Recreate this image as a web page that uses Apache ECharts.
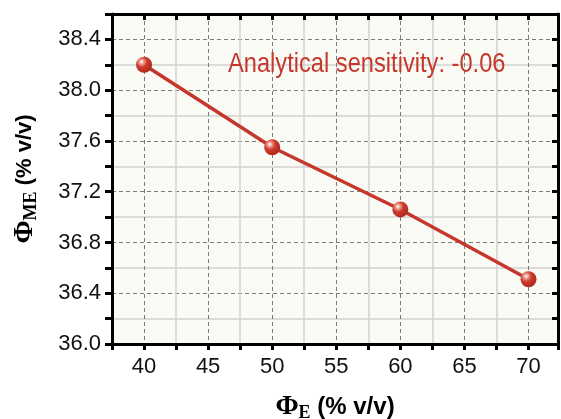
<!DOCTYPE html>
<html><head><meta charset="utf-8">
<script src="https://cdn.jsdelivr.net/npm/echarts@6/dist/echarts.min.js"></script>
<style>html,body{margin:0;padding:0;background:#fff}#c{width:561px;height:419px}</style>
</head><body><div id="c"></div>
<script>
const phiE = [40, 50, 60, 70];
const phiME = [38.20, 37.55, 37.06, 36.51];
const xTickLabels = ['40', '45', '50', '55', '60', '65', '70'];
const yTickLabels = ['36.0', '36.4', '36.8', '37.2', '37.6', '38.0', '38.4'];
const annotation = 'Analytical sensitivity: -0.06';

const SANS = "'Liberation Sans',Arial,sans-serif";
const SERIF = "'Liberation Serif','DejaVu Serif',serif";
const RED = '#c5372c';
const MINOR = '#d2d2d2';
const MAJOR = '#7a7a7a';
const T = 'rgba(0,0,0,0)';

const chart = echarts.init(document.getElementById('c'), null, {renderer: 'canvas'});

function nameRich(tSize) {
  return {
    phi: {fontFamily: SERIF, fontWeight: 'bold', fontSize: 28, color: '#000'},
    sub: {fontFamily: SERIF, fontWeight: 'bold', fontSize: 18, color: '#000', verticalAlign: 'bottom', padding: [12, 0, 0, 0]},
    t: {fontFamily: SANS, fontWeight: 'bold', fontSize: tSize, color: '#000'}
  };
}

const axisLine = {show: true, onZero: false, lineStyle: {color: '#000', width: 3}};

chart.setOption({
  animation: false,
  grid: {left: 112, right: 3, top: 14, bottom: 75, outerBoundsMode: 'none', containLabel: false,
         show: true, backgroundColor: '#fbfbf5', borderWidth: 0},
  graphic: [{
    type: 'text', x: 228, y: 50, z: 10, scaleX: 0.845,
    style: {text: annotation, fill: RED, font: "28px " + SANS}
  }],
  xAxis: [{
    type: 'value', position: 'bottom', min: 37.5, max: 72.3, interval: 2.5,
    axisLine: axisLine,
    axisTick: {show: true, inside: false, length: 6, lineStyle: {color: '#000', width: 3}},
    axisLabel: {
      fontFamily: SANS, fontSize: 22, color: '#111', margin: 12,
      formatter: v => { const s = String(Math.round(v * 10) / 10); return xTickLabels.includes(s) ? s : ''; }
    },
    splitLine: {show: true, lineStyle: {color: [MINOR, T], width: 1.5, type: 'solid'}},
    name: '{phi|Φ}{sub|E}{t| (% v/v)}', nameLocation: 'middle', nameGap: 48,
    nameTextStyle: {rich: nameRich(24)}
  }, {
    type: 'value', position: 'top', min: 37.5, max: 72.3, interval: 2.5,
    axisLine: axisLine,
    axisTick: {show: true, inside: true, length: 6, lineStyle: {color: '#000', width: 3}},
    axisLabel: {show: false},
    splitLine: {show: true, lineStyle: {color: [T, MAJOR], width: 1, type: [4, 3]}}
  }],
  yAxis: [{
    type: 'value', position: 'left', min: 36.0, max: 38.6, interval: 0.2,
    axisLine: axisLine,
    axisTick: {show: true, inside: false, length: 7, lineStyle: {color: '#000', width: 3}},
    axisLabel: {
      fontFamily: SANS, fontSize: 22, color: '#111', margin: 11,
      formatter: v => { const s = v.toFixed(1); return yTickLabels.includes(s) ? s : ''; }
    },
    splitLine: {show: true, lineStyle: {color: [T, MINOR], width: 1.5, type: 'solid'}},
    name: '{phi|Φ}{sub|ME}{t| (% v/v)}', nameLocation: 'middle', nameGap: 72, nameRotate: 90,
    nameTextStyle: {rich: nameRich(22)}
  }, {
    type: 'value', position: 'right', min: 36.0, max: 38.6, interval: 0.2,
    axisLine: axisLine,
    axisTick: {show: true, inside: true, length: 6, lineStyle: {color: '#000', width: 3}},
    axisLabel: {show: false},
    splitLine: {show: true, showMinLine: false, showMaxLine: false, lineStyle: {color: [T, MAJOR], width: 1, type: [4, 3]}}
  }],
  series: [{
    type: 'line', xAxisIndex: 0, yAxisIndex: 0,
    data: phiE.map((x, i) => [x, phiME[i]]),
    lineStyle: {color: RED, width: 3.5},
    symbol: 'circle', symbolSize: 16, showSymbol: true,
    itemStyle: {
      color: {type: 'radial', x: 0.35, y: 0.32, r: 0.75, colorStops: [
        {offset: 0, color: '#ffffff'}, {offset: 0.18, color: '#f0a090'}, {offset: 0.45, color: '#cc3b2e'}, {offset: 1, color: '#a82619'}]},
      borderWidth: 0
    },
    z: 5
  }]
});
</script></body></html>
